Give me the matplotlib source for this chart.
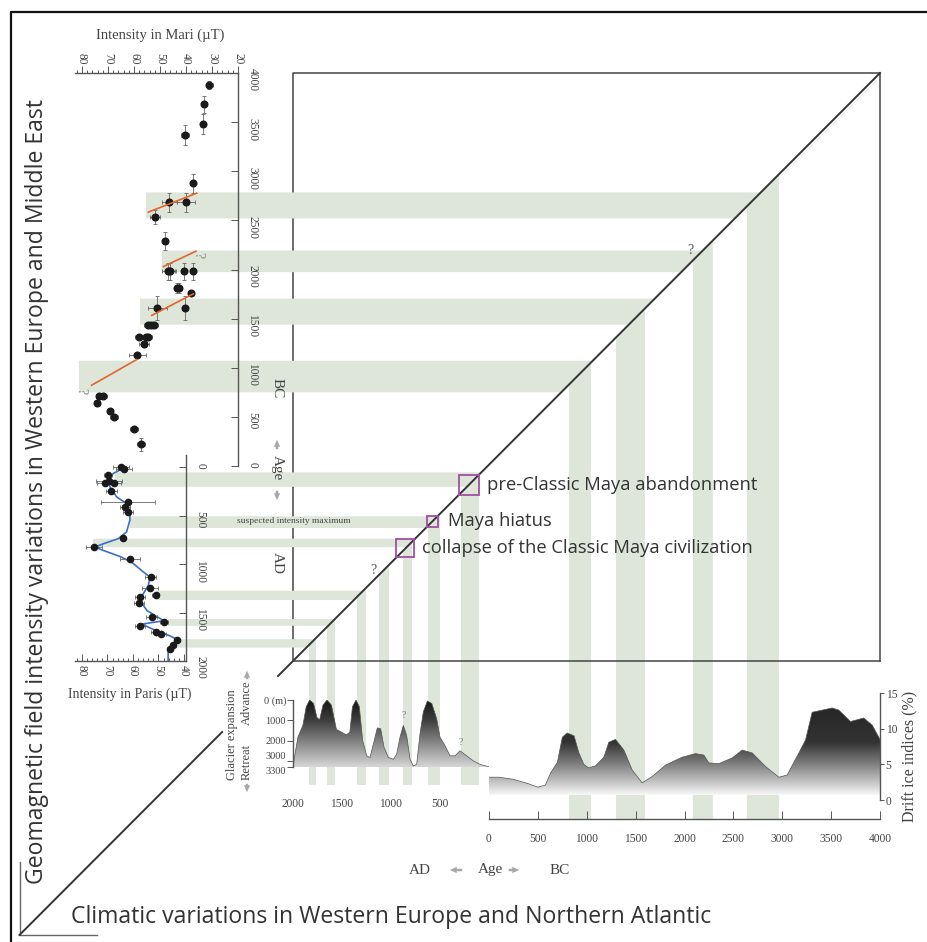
import numpy as np
import matplotlib
matplotlib.use('Agg')
import matplotlib.pyplot as plt
from matplotlib.patches import Polygon, Rectangle
from matplotlib.colors import LinearSegmentedColormap
from matplotlib.ticker import FixedLocator, MultipleLocator

# ---------------- data ----------------
# Mari archeointensity (age BC)
mari_int = [31.0, 33.1, 33.3, 40.4, 37.5, 40.0, 46.4, 51.9, 48.1, 46.8, 46.0, 40.8, 37.4, 43.3, 42.6,
            38.1, 51.0, 40.4, 54.6, 53.3, 52.3, 58.1, 55.4, 54.6, 56.2, 58.7, 73.3, 71.8, 74.1, 69.2,
            67.6, 60.0, 57.3]
mari_age = [3875, 3680, 3480, 3370, 2876, 2683, 2683, 2538, 2287, 1980, 1980, 1980, 1980, 1815, 1815,
            1763, 1611, 1611, 1440, 1440, 1440, 1313, 1313, 1313, 1239, 1134, 714, 714, 637, 561,
            500, 376, 220]
mari_ierr = [1.3, 0, 0, 1.5, 0, 3.6, 2.8, 1.9, 0, 2.6, 2.0, 1.0, 1.0, 1.0, 1.0,
             1.0, 3.8, 0, 1.5, 1.5, 1.5, 1.5, 1.5, 1.5, 1.8, 3.2, 1.5, 1.5, 0, 0,
             1.5, 1.5, 1.5]
mari_aerr = [40, 90, 100, 100, 100, 100, 100, 70, 90, 85, 85, 85, 85, 50, 50,
             0, 120, 120, 0, 0, 0, 0, 0, 0, 0, 0, 0, 0, 0, 0,
             0, 0, 70]
# intensity trends (red segments) in Mari
trend_int = [(54.5, 35.9), (48.7, 36.2), (53.2, 37.2), (76.3, 59.0)]
trend_age = [(2584, 2777), (2030, 2186), (1533, 1752), (822, 1083)]

# Paris archeointensity (age AD)
paris_int = [64.7, 63.5, 69.7, 69.3, 71.0, 67.5, 68.4, 61.8, 63.1, 61.8, 64.0, 75.3, 61.2, 53.1,
             53.3, 51.1, 57.3, 57.6, 52.7, 47.8, 57.3, 51.1, 49.0, 42.9, 44.2, 45.5]
paris_age = [0, 20, 85, 140, 160, 160, 250, 360, 410, 460, 735, 820, 950, 1130,
             1250, 1320, 1345, 1400, 1550, 1600, 1635, 1700, 1720, 1780, 1840, 1875]
paris_ierr = [3, 3, 1.5, 5, 3, 3, 2, 10.6, 2, 2, 0, 3, 4, 2,
              3, 1.5, 2, 2, 2, 1.5, 2, 2, 2, 1, 1, 1]
# smoothed Paris curve (blue)
curve_int = [65.0, 67.7, 69.7, 69.0, 66.4, 62.5, 61.2, 61.2, 62.5, 65.8, 71.6, 74.9, 71.6, 65.1,
             60.5, 56.6, 53.3, 54.0, 56.0, 57.3, 54.4, 50.1, 47.8, 56.6, 50.7, 45.5, 42.9, 44.2,
             46.2, 46.2]
curve_age = [30, 66, 135, 204, 308, 376, 463, 549, 670, 739, 791, 826, 860, 922,
             981, 1067, 1136, 1223, 1309, 1378, 1482, 1551, 1585, 1620, 1689, 1741, 1775, 1845,
             1896, 2000]

# Glacier expansion, AD, metres
glac_ad = [2000, 1950, 1899, 1865, 1830, 1790, 1755, 1728, 1694, 1653, 1608, 1557, 1506, 1455,
           1420, 1393, 1357, 1323, 1289, 1248, 1214, 1180, 1139, 1105, 1071, 1027, 976, 942,
           908, 874, 840, 806, 772, 738, 704, 670, 629, 584, 534, 500, 449, 398, 347, 296,
           228, 160, 92, -30]
glac_m = [3250, 1830, 1250, 330, 0, 170, 870, 970, 250, 0, 250, 1450, 1580, 1720,
          1580, 330, 0, 330, 2000, 2750, 2830, 2170, 1370, 1420, 2330, 2830, 2920, 2670,
          1830, 1250, 1750, 2920, 3250, 3170, 1670, 580, 50, 170, 920, 1830, 2250, 2750, 2750, 2500,
          2750, 3000, 3170, 3330]

# Drift ice indices (BC), %
drift_age = [0, 100, 250, 400, 500, 577, 630, 700, 750, 800, 870, 920, 970, 1020, 1090, 1175,
             1226, 1294, 1380, 1465, 1567, 1670, 1806, 1976, 2113, 2198, 2249, 2352, 2488, 2590,
             2693, 2829, 2965, 3050, 3170, 3238, 3306, 3408, 3511, 3579, 3698, 3834, 3920, 3988, 4000]
drift_val = [3.2, 3.2, 2.9, 2.3, 1.8, 2.1, 3.8, 5.3, 8.8, 9.4, 9.0, 6.6, 5.0, 4.5, 4.8, 6.0,
             8.1, 8.5, 7.0, 4.2, 2.4, 3.3, 4.9, 6.0, 6.5, 6.3, 5.2, 5.1, 5.9, 7.0,
             6.6, 4.7, 3.2, 3.5, 6.6, 8.4, 12.3, 12.6, 12.9, 12.6, 11.0, 11.5, 10.5, 8.8, 8.5]

# coincidence bands
mari_band_age = [(2520, 2785), (1973, 2193), (1439, 1703), (750, 1071)]
mari_band_from = [55.4, 49.3, 57.7, 81.2]
paris_band_age = [(55, 204), (508, 629), (739, 826), (1275, 1371), (1568, 1637), (1775, 1862)]
paris_band_from = [67.1, 61.2, 75.7, 50.6, 46.3, 42.4]
drift_band_age = [(818, 1043), (1300, 1595), (2085, 2290), (2638, 2965)]
glac_band_age = [(1765, 1837), (1571, 1653), (1255, 1347), (1020, 1122), (786, 878), (500, 622), (102, 286)]

maya_labels = ['pre-Classic Maya abandonment', 'Maya hiatus', 'collapse of the Classic Maya civilization']
maya_age = [186, 557, 840]

mari_xticks = [80, 70, 60, 50, 40, 30, 20]
mari_yticks = [0, 500, 1000, 1500, 2000, 2500, 3000, 3500, 4000]
paris_xticks = [80, 70, 60, 50, 40]
paris_yticks = [0, 500, 1000, 1500, 2000]
glac_yticks = [0, 1000, 2000, 3000, 3300]
glac_ylabels = ['0 (m)', '1000', '2000', '3000', '3300']
glac_xticks = [2000, 1500, 1000, 500]
drift_xticks = [0, 500, 1000, 1500, 2000, 2500, 3000, 3500, 4000]
drift_yticks = [0, 5, 10, 15]

# ---------------- figure ----------------
plt.rcParams['font.family'] = ['Liberation Serif', 'DejaVu Serif']
W, H = 927, 942
fig = plt.figure(figsize=(W / 100, H / 100), dpi=100)
fig.patch.set_facecolor('white')

def box(x0, y0, x1, y1):
    return [x0 / W, 1 - y1 / H, (x1 - x0) / W, (y1 - y0) / H]

bg = fig.add_axes([0, 0, 1, 1], zorder=0)
bg.set_xlim(0, W)
bg.set_ylim(H, 0)
bg.axis('off')

SP = '#555555'
TK = '#444444'
BAND = '#dde6d9'
SANS = ['Open Sans', 'DejaVu Sans']
TS = 8.3

# ---- panels ----
axm = fig.add_axes(box(75, 73, 238, 466), zorder=2)
axp = fig.add_axes(box(75, 455, 186, 661), zorder=2)
axg = fig.add_axes(box(293, 700, 489, 767), zorder=2)
axd = fig.add_axes(box(489, 693, 880, 819), zorder=2)
for a in (axm, axp, axg, axd):
    a.set_facecolor('none')
    for s in a.spines.values():
        s.set_visible(False)
        s.set_color(SP)
        s.set_linewidth(1.0)

axm.set_xlim(82.7, 20)
axm.set_ylim(0, 4000)
axp.set_xlim(82.7, 39.2)
axp.set_ylim(2000, -124)
axg.set_xlim(2000, 0)
axg.set_ylim(3300, 0)
axd.set_xlim(0, 4000)
axd.set_ylim(-2.66, 15)

# Mari axes
axm.spines['top'].set_visible(True)
axm.spines['right'].set_visible(True)
axm.xaxis.set_major_locator(FixedLocator(mari_xticks))
axm.xaxis.set_minor_locator(MultipleLocator(2))
axm.tick_params(axis='x', which='both', top=True, bottom=False, labeltop=True, labelbottom=False,
                direction='out', color=SP, labelcolor=TK, labelsize=TS, labelrotation=-90, width=0.7)
axm.tick_params(axis='x', which='major', length=5, pad=1)
axm.tick_params(axis='x', which='minor', length=2.5)
axm.yaxis.set_major_locator(FixedLocator(mari_yticks))
axm.tick_params(axis='y', which='both', right=True, left=False, labelright=True, labelleft=False,
                direction='in', length=5, color=SP, labelcolor=TK, labelsize=TS, labelrotation=-90,
                pad=6, width=0.7)

# Paris axes
axp.spines['bottom'].set_visible(True)
axp.spines['right'].set_visible(True)
axp.xaxis.set_major_locator(FixedLocator(paris_xticks))
axp.xaxis.set_minor_locator(MultipleLocator(2))
axp.tick_params(axis='x', which='both', bottom=True, top=False, labelbottom=True, direction='in',
                color=SP, labelcolor=TK, labelsize=TS, labelrotation=-90, width=0.7, pad=3)
axp.tick_params(axis='x', which='major', length=5)
axp.tick_params(axis='x', which='minor', length=2.5)
axp.yaxis.set_major_locator(FixedLocator(paris_yticks))
axp.tick_params(axis='y', which='both', right=True, left=False, labelright=True, labelleft=False,
                direction='in', length=5, color=SP, labelcolor=TK, labelsize=TS, labelrotation=-90,
                pad=6, width=0.7)

# Glacier axes
axg.spines['left'].set_visible(True)
axg.set_yticks(glac_yticks)
axg.set_yticklabels(glac_ylabels)
axg.tick_params(axis='y', direction='out', length=4, color=SP, labelcolor=TK, labelsize=7.5, pad=1, width=0.7)
gl = axg.get_yticklabels()
gl[3].set_va('bottom')
gl[4].set_va('top')
axg.set_xticks(glac_xticks)
axg.tick_params(axis='x', length=0, labelcolor=TK, labelsize=TS, pad=22)

# Drift axes
axd.spines['bottom'].set_visible(True)
axd.spines['right'].set_visible(True)
axd.spines['right'].set_bounds(0, 15)
axd.set_xticks(drift_xticks)
axd.tick_params(axis='x', direction='in', length=6, color=SP, labelcolor=TK, labelsize=TS, pad=10, width=0.7)
axd.yaxis.tick_right()
axd.set_yticks(drift_yticks)
axd.tick_params(axis='y', direction='out', length=3, color=SP, labelcolor=TK, labelsize=TS, pad=1, width=0.7)
axd.set_ylabel('Drift ice indices (%)', fontsize=11.5, color=TK, labelpad=3)
axd.yaxis.set_label_position('right')
axd.yaxis.label.set_rotation(90)

# ---- data marks ----
axm.errorbar(mari_int, mari_age, xerr=mari_ierr, yerr=mari_aerr, fmt='o', color='#1a1a1a',
             ms=4.8, ecolor='#666666', elinewidth=0.6, capsize=1.5, capthick=0.6, zorder=3)
for (i0, i1), (a0, a1) in zip(trend_int, trend_age):
    axm.plot([i0, i1], [a0, a1], color='#e2652d', lw=1.2, zorder=4)
axm.text(35.3, 2150, '?', rotation=-90, color='#888888', fontsize=10, ha='center', va='center')
axm.text(80.5, 760, '?', rotation=-90, color='#888888', fontsize=10, ha='center', va='center')

axp.plot(curve_int, curve_age, color='#3b6fc6', lw=1.2, zorder=3)
axp.errorbar(paris_int, paris_age, xerr=paris_ierr, fmt='o', color='#1a1a1a', ms=4.5,
             ecolor='#666666', elinewidth=0.6, capsize=1.5, capthick=0.6, zorder=4)

def grad_fill(ax, xs, ys, base, cols, stops, yext):
    verts = list(zip(xs, ys)) + [(xs[-1], base), (xs[0], base)]
    poly = Polygon(verts, closed=True, facecolor='none', edgecolor='none')
    ax.add_patch(poly)
    cmap = LinearSegmentedColormap.from_list('g', list(zip(stops, cols)))
    t = np.linspace(0, 1, 256)[:, None]
    im = ax.imshow(t, extent=[min(xs), max(xs), yext[0], yext[1]], origin='lower', aspect='auto',
                   cmap=cmap, vmin=0, vmax=1, interpolation='bilinear', zorder=2)
    im.set_clip_path(poly)
    ax.plot(xs, ys, color='#555555', lw=0.5, zorder=3)

grad_fill(axg, glac_ad, glac_m, 3300,
          ['#d6d6d6', '#8a8a8a', '#3e3e3e', '#151515'], [0.0, 0.35, 0.7, 1.0], (3300, 0))
grad_fill(axd, drift_age, drift_val, 0.7,
          ['#f8f8f8', '#d4d4d4', '#808080', '#333333', '#262626'], [0.0, 0.1, 0.35, 0.6, 1.0], (0.7, 13.0))
axg.set_xlim(2000, 0)
axg.set_ylim(3300, 0)
axd.set_xlim(0, 4000)
axd.set_ylim(-2.66, 15)
axg.text(874, 1000, '?', color='#777777', fontsize=7, ha='center', va='bottom')
axg.text(290, 2300, '?', color='#777777', fontsize=7, ha='center', va='bottom')

# ---- background geometry ----
def px(ax, x, y):
    d = ax.transData.transform((x, y))
    return bg.transData.inverted().transform(d)

P1 = (px(axd, 4000, 0)[0], px(axm, 0, 4000)[1])
P2 = (px(axg, 2000, 0)[0], px(axp, 0, 2000)[1])
k = (P2[0] - P1[0]) / (P2[1] - P1[1])

def xd(y):
    return P1[0] + (y - P1[1]) * k

def yd(x):
    return P1[1] + (x - P1[0]) / k

# big box
bx0, by0, bx1, by1 = P2[0], P1[1], P1[0], P2[1]
bg.plot([bx0, bx0, bx1, bx1], [by1, by0, by0, by1], color='#444444', lw=1.1, zorder=1)
bg.plot([bx0, bx1], [by1, by1], color='#444444', lw=1.1, zorder=4)

# horizontal bands
for (a0, a1), f in zip(mari_band_age, mari_band_from):
    xl, yb = px(axm, f, a0)
    yt = px(axm, f, a1)[1]
    bg.add_patch(Polygon([(xl, yt), (xd(yt), yt), (xd(yb), yb), (xl, yb)], facecolor=BAND, edgecolor='none', zorder=2))
for (a0, a1), f in zip(paris_band_age, paris_band_from):
    xl, yt = px(axp, f, a0)
    yb = px(axp, f, a1)[1]
    bg.add_patch(Polygon([(xl, yt), (xd(yt), yt), (xd(yb), yb), (xl, yb)], facecolor=BAND, edgecolor='none', zorder=2))
# vertical bands
ybd = px(axd, 0, -2.66)[1]
for a0, a1 in drift_band_age:
    x0 = px(axd, a0, 0)[0]
    x1 = px(axd, a1, 0)[0]
    bg.add_patch(Polygon([(x0, yd(x0)), (x1, yd(x1)), (x1, ybd), (x0, ybd)], facecolor=BAND, edgecolor='none', zorder=2))
ybg = px(axg, 0, 3300)[1] + 18
for a0, a1 in glac_band_age:
    x0 = px(axg, a1, 0)[0]
    x1 = px(axg, a0, 0)[0]
    bg.add_patch(Polygon([(x0, yd(x0)), (x1, yd(x1)), (x1, ybg), (x0, ybg)], facecolor=BAND, edgecolor='none', zorder=2))

# diagonal (with a gap for the glacier label)
bg.plot([P1[0], xd(676)], [P1[1], 676], color='#333333', lw=1.4, zorder=3)
bg.plot([xd(732), xd(935)], [732, 935], color='#333333', lw=1.4, zorder=3)

# Maya events
for lab, age, s, gap in zip(maya_labels, maya_age, [20, 11, 18], [8, 10, 8]):
    yc = px(axp, 60, age)[1]
    xc = xd(yc)
    bg.add_patch(Rectangle((xc - s / 2, yc - s / 2), s, s, facecolor='none', edgecolor='#a24fa0', lw=1.3, zorder=5))
    bg.text(xc + s / 2 + gap, yc, lab, family=SANS, fontsize=13.2, color='#333333', ha='left', va='center', zorder=6)

bg.text(294, 521, 'suspected intensity maximum', fontsize=6.8, color='#444444', ha='center', va='center', zorder=5)
bg.text(690, 250, '?', fontsize=10, color='#555555', ha='center', va='center', zorder=5)
bg.text(373, 570, '?', fontsize=10, color='#555555', ha='center', va='center', zorder=5)

# axis titles
bg.text(160, 35, 'Intensity in Mari (\u00b5T)', fontsize=10.5, color=TK, ha='center', va='center')
bg.text(130, 694, 'Intensity in Paris (\u00b5T)', fontsize=10, color=TK, ha='center', va='center')
bg.text(277, 388, 'BC', fontsize=11, color=TK, rotation=-90, ha='center', va='center')
bg.text(277, 468, 'Age', fontsize=11, color=TK, rotation=-90, ha='center', va='center')
bg.text(277, 563, 'AD', fontsize=11, color=TK, rotation=-90, ha='center', va='center')
ARW = dict(arrowstyle='simple,head_width=0.45,head_length=0.5,tail_width=0.18', color='#a8a8a8', lw=0)
bg.annotate('', xy=(277, 437), xytext=(277, 452), arrowprops=ARW)
bg.annotate('', xy=(277, 503), xytext=(277, 488), arrowprops=ARW)

bg.text(232, 735, 'Glacier expansion', fontsize=9, color=TK, rotation=90, ha='center', va='center')
bg.text(247, 703, 'Advance', fontsize=9, color=TK, rotation=90, ha='center', va='center')
bg.text(247, 762, 'Retreat', fontsize=9, color=TK, rotation=90, ha='center', va='center')
bg.annotate('', xy=(247, 668), xytext=(247, 682), arrowprops=ARW)
bg.annotate('', xy=(247, 795), xytext=(247, 781), arrowprops=ARW)

bg.text(420, 870, 'AD', fontsize=11, color=TK, ha='center', va='center')
bg.text(490, 870, 'Age', fontsize=11, color=TK, ha='center', va='center')
bg.text(560, 870, 'BC', fontsize=11, color=TK, ha='center', va='center')
bg.annotate('', xy=(447, 870), xytext=(465, 870), arrowprops=ARW)
bg.annotate('', xy=(522, 870), xytext=(506, 870), arrowprops=ARW)

# frame titles
bg.text(37, 491, 'Geomagnetic field intensity variations in Western Europe and Middle East',
        family=SANS, fontsize=16.6, color='#333333', rotation=90, ha='center', va='center')
bg.text(391, 917, 'Climatic variations in Western Europe and Northern Atlantic',
        family=SANS, fontsize=16.6, color='#333333', ha='center', va='center')
bg.plot([20, 20, 97], [862, 935, 935], color='#666666', lw=1.0)
bg.plot([11, 11, W], [H, 12, 12], color='#111111', lw=1.6)

fig.savefig('out.png', dpi=100)
